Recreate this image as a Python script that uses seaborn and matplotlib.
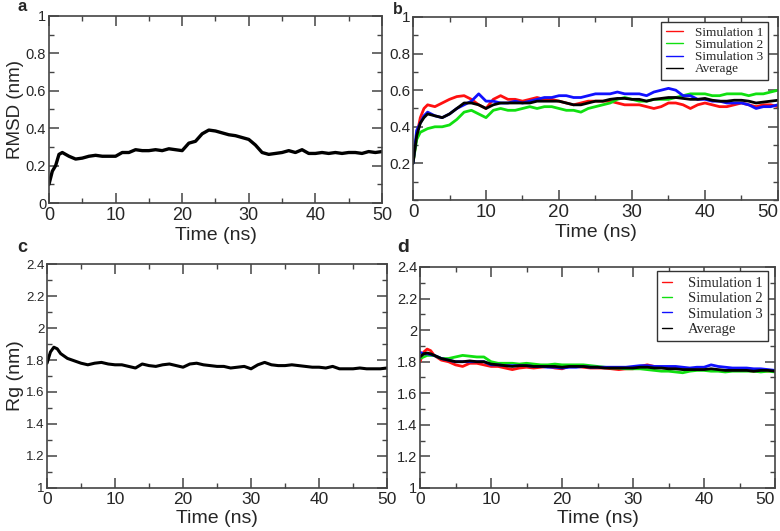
import numpy as np
import pandas as pd
import matplotlib
matplotlib.use("Agg")
import matplotlib.pyplot as plt
import seaborn as sns
from matplotlib.ticker import MultipleLocator

# --- data (ns, nm) ---
time_ns = [0, 0.5, 1, 1.5, 2, 3, 4, 5, 6, 7, 8, 9, 10, 11, 12, 13, 14, 15, 16, 17, 18, 19,
           20, 21, 22, 23, 24, 25, 26, 27, 28, 29, 30, 31, 32, 33, 34, 35, 36, 37, 38, 39,
           40, 41, 42, 43, 44, 45, 46, 47, 48, 49, 50]

rmsd_single = [0.10, 0.17, 0.20, 0.26, 0.27, 0.25, 0.235, 0.24, 0.25, 0.255, 0.25, 0.25,
               0.25, 0.27, 0.27, 0.285, 0.28, 0.28, 0.285, 0.28, 0.29, 0.285, 0.28, 0.32,
               0.33, 0.37, 0.39, 0.385, 0.375, 0.365, 0.36, 0.35, 0.34, 0.31, 0.27, 0.26,
               0.265, 0.27, 0.28, 0.27, 0.285, 0.265, 0.265, 0.27, 0.265, 0.27, 0.265, 0.27,
               0.27, 0.265, 0.275, 0.27, 0.275]

rmsd_sim1 = [0.20, 0.35, 0.45, 0.50, 0.52, 0.51, 0.53, 0.55, 0.565, 0.57, 0.55, 0.52, 0.50,
             0.55, 0.57, 0.55, 0.55, 0.54, 0.55, 0.56, 0.55, 0.55, 0.54, 0.53, 0.52, 0.53,
             0.54, 0.54, 0.54, 0.54, 0.53, 0.52, 0.52, 0.52, 0.51, 0.50, 0.51, 0.53, 0.53,
             0.52, 0.50, 0.52, 0.53, 0.52, 0.51, 0.51, 0.52, 0.53, 0.52, 0.51, 0.52, 0.52, 0.51]
rmsd_sim2 = [0.20, 0.33, 0.37, 0.38, 0.39, 0.40, 0.40, 0.41, 0.44, 0.48, 0.49, 0.47, 0.45,
             0.49, 0.50, 0.49, 0.49, 0.50, 0.51, 0.50, 0.51, 0.51, 0.50, 0.49, 0.49, 0.48,
             0.50, 0.51, 0.52, 0.53, 0.55, 0.56, 0.55, 0.54, 0.54, 0.55, 0.55, 0.55, 0.56,
             0.57, 0.58, 0.58, 0.58, 0.57, 0.57, 0.58, 0.58, 0.58, 0.57, 0.58, 0.58, 0.59, 0.60]
rmsd_sim3 = [0.20, 0.38, 0.42, 0.46, 0.48, 0.46, 0.45, 0.47, 0.50, 0.52, 0.54, 0.58, 0.54,
             0.54, 0.53, 0.53, 0.54, 0.53, 0.54, 0.55, 0.56, 0.56, 0.57, 0.57, 0.56, 0.56,
             0.57, 0.58, 0.58, 0.58, 0.59, 0.58, 0.58, 0.58, 0.57, 0.59, 0.60, 0.61, 0.60,
             0.57, 0.57, 0.55, 0.55, 0.54, 0.54, 0.53, 0.53, 0.53, 0.52, 0.50, 0.51, 0.51, 0.52]
rmsd_avg = [0.20, 0.35, 0.42, 0.45, 0.47, 0.46, 0.45, 0.47, 0.50, 0.53, 0.53, 0.52, 0.50,
            0.52, 0.53, 0.53, 0.53, 0.53, 0.53, 0.54, 0.54, 0.54, 0.54, 0.53, 0.52, 0.52,
            0.53, 0.54, 0.54, 0.55, 0.555, 0.555, 0.55, 0.55, 0.54, 0.55, 0.555, 0.56, 0.56,
            0.555, 0.55, 0.55, 0.555, 0.545, 0.54, 0.54, 0.545, 0.545, 0.54, 0.53, 0.535,
            0.54, 0.545]

rg_single = [1.78, 1.85, 1.88, 1.87, 1.84, 1.81, 1.795, 1.78, 1.77, 1.78, 1.785, 1.775,
             1.77, 1.77, 1.76, 1.75, 1.775, 1.765, 1.76, 1.77, 1.775, 1.765, 1.755, 1.775,
             1.78, 1.77, 1.765, 1.76, 1.76, 1.75, 1.755, 1.76, 1.745, 1.77, 1.785, 1.77,
             1.765, 1.765, 1.77, 1.765, 1.76, 1.755, 1.755, 1.75, 1.76, 1.745, 1.745, 1.745,
             1.75, 1.745, 1.745, 1.745, 1.75]

rg_sim1 = [1.80, 1.86, 1.88, 1.87, 1.84, 1.81, 1.80, 1.78, 1.77, 1.79, 1.79, 1.78, 1.77,
           1.77, 1.76, 1.75, 1.76, 1.765, 1.76, 1.765, 1.77, 1.76, 1.755, 1.77, 1.77, 1.765,
           1.76, 1.76, 1.76, 1.755, 1.75, 1.755, 1.755, 1.77, 1.78, 1.77, 1.765, 1.76, 1.76,
           1.755, 1.755, 1.75, 1.75, 1.745, 1.745, 1.74, 1.745, 1.745, 1.745, 1.74, 1.745,
           1.74, 1.745]
rg_sim2 = [1.82, 1.83, 1.84, 1.84, 1.84, 1.82, 1.82, 1.83, 1.84, 1.835, 1.83, 1.83, 1.80,
           1.79, 1.79, 1.79, 1.785, 1.79, 1.785, 1.78, 1.78, 1.785, 1.78, 1.78, 1.78, 1.78,
           1.775, 1.77, 1.765, 1.76, 1.76, 1.755, 1.755, 1.755, 1.75, 1.745, 1.74, 1.74,
           1.735, 1.73, 1.74, 1.745, 1.745, 1.74, 1.74, 1.735, 1.74, 1.74, 1.74, 1.74, 1.735,
           1.74, 1.735]
rg_sim3 = [1.86, 1.85, 1.85, 1.845, 1.84, 1.82, 1.81, 1.80, 1.80, 1.80, 1.80, 1.80, 1.78,
           1.78, 1.775, 1.775, 1.775, 1.775, 1.77, 1.77, 1.765, 1.765, 1.76, 1.765, 1.765,
           1.77, 1.765, 1.765, 1.765, 1.765, 1.765, 1.765, 1.77, 1.775, 1.775, 1.77, 1.77,
           1.77, 1.77, 1.765, 1.76, 1.765, 1.765, 1.78, 1.77, 1.765, 1.76, 1.76, 1.76, 1.755,
           1.755, 1.75, 1.745]
rg_avg = [1.83, 1.85, 1.855, 1.85, 1.84, 1.82, 1.81, 1.80, 1.80, 1.805, 1.80, 1.80, 1.785,
          1.78, 1.775, 1.77, 1.775, 1.775, 1.77, 1.77, 1.77, 1.77, 1.765, 1.77, 1.77, 1.77,
          1.765, 1.765, 1.76, 1.76, 1.76, 1.76, 1.76, 1.765, 1.765, 1.76, 1.76, 1.755, 1.755,
          1.75, 1.75, 1.75, 1.75, 1.755, 1.75, 1.745, 1.745, 1.745, 1.745, 1.74, 1.745,
          1.745, 1.74]

run_names = ["Simulation 1", "Simulation 2", "Simulation 3", "Average"]
run_colors = ["#ff1010", "#10e010", "#1010ff", "#000000"]

x_ticks = [0, 10, 20, 30, 40, 50]
rmsd_ticks = [0, 0.2, 0.4, 0.6, 0.8, 1.0]
rmsd_labels = ["0", "0.2", "0.4", "0.6", "0.8", "1"]
rg_ticks = [1, 1.2, 1.4, 1.6, 1.8, 2.0, 2.2, 2.4]
rg_labels = ["1", "1.2", "1.4", "1.6", "1.8", "2", "2.2", "2.4"]

sns.set_style("ticks")
plt.rcParams["font.family"] = ["Liberation Sans", "DejaVu Sans"]


def long_frame(series):
    rows = []
    for name, vals in zip(run_names, series):
        for t, v in zip(time_ns, vals):
            rows.append((t, v, name))
    return pd.DataFrame(rows, columns=["Time", "Value", "Run"])


def style_axis(ax, ylim, yticks, ylabels, xfs, yfs, last_right=False):
    ax.set_xlim(0, 50)
    ax.set_ylim(*ylim)
    ax.set_xticks(x_ticks)
    ax.set_xticklabels([str(t) for t in x_ticks])
    ax.set_yticks(yticks)
    ax.set_yticklabels(ylabels)
    ax.xaxis.set_minor_locator(MultipleLocator(5))
    ax.yaxis.set_minor_locator(MultipleLocator(0.1))
    ax.tick_params(which="both", direction="in", top=True, right=True, color="#444444")
    ax.tick_params(which="major", length=7, width=1.1)
    ax.tick_params(which="minor", length=3.5, width=1.0)
    ax.tick_params(axis="x", labelsize=xfs, pad=3)
    ax.tick_params(axis="y", labelsize=yfs, pad=2)
    if last_right:
        ax.get_xticklabels()[-1].set_horizontalalignment("right")
    for s in ax.spines.values():
        s.set_visible(True)
        s.set_color("#444444")
        s.set_linewidth(1.2)
    ax.set_xlabel("Time (ns)", fontsize=14, labelpad=2)


fig = plt.figure(figsize=(7.8, 5.31), dpi=100)

ax_a = fig.add_axes([0.0628, 0.6177, 0.4269, 0.3522])
ax_b = fig.add_axes([0.5295, 0.6234, 0.4679, 0.3446])
ax_c = fig.add_axes([0.0603, 0.0810, 0.4359, 0.4218])
ax_d = fig.add_axes([0.5385, 0.0810, 0.4551, 0.4162])

# a: single RMSD
sns.lineplot(x=time_ns, y=rmsd_single, ax=ax_a, color="black", linewidth=2.4)
style_axis(ax_a, (0, 1), rmsd_ticks, rmsd_labels, 13, 10.5)
ax_a.set_ylabel("RMSD (nm)", fontsize=13.5, labelpad=1)

# b: three runs + average RMSD
df_b = long_frame([rmsd_sim1, rmsd_sim2, rmsd_sim3, rmsd_avg])
sns.lineplot(data=df_b, x="Time", y="Value", hue="Run", hue_order=run_names,
             palette=run_colors, estimator=None, linewidth=2.0, ax=ax_b)
style_axis(ax_b, (0, 1), rmsd_ticks[1:], rmsd_labels[1:], 13.5, 11, last_right=True)
ax_b.set_ylabel("")

# c: single Rg
sns.lineplot(x=time_ns, y=rg_single, ax=ax_c, color="black", linewidth=2.2)
style_axis(ax_c, (1, 2.4), rg_ticks, rg_labels, 12.5, 9.5)
ax_c.set_ylabel("Rg (nm)", fontsize=14, labelpad=1)

# d: three runs + average Rg
df_d = long_frame([rg_sim1, rg_sim2, rg_sim3, rg_avg])
sns.lineplot(data=df_d, x="Time", y="Value", hue="Run", hue_order=run_names,
             palette=run_colors, estimator=None, linewidth=2.0, ax=ax_d)
style_axis(ax_d, (1, 2.4), rg_ticks, rg_labels, 12.5, 10.5, last_right=True)
ax_d.set_ylabel("")

# legends (serif, boxed, upper right)
legend_opts = {
    ax_b: dict(fs=9.5, hl=1.3, tp=0.9, ls=0.0, anchor=(0.973, 0.973)),
    ax_d: dict(fs=10.5, hl=0.7, tp=1.1, ls=0.15, anchor=(0.98, 0.98)),
}
for ax, o in legend_opts.items():
    leg = ax.legend(loc="upper right", bbox_to_anchor=o["anchor"], borderaxespad=0,
                    frameon=True, fancybox=False, handlelength=o["hl"],
                    handletextpad=o["tp"], borderpad=0.35, labelspacing=o["ls"],
                    prop={"family": "Liberation Serif", "size": o["fs"]})
    leg.get_frame().set_edgecolor("#333333")
    leg.get_frame().set_linewidth(1.0)
    leg.get_frame().set_alpha(1)
    for line in leg.get_lines():
        line.set_linewidth(1.0)

# panel letters
for letter, x, y, fs in (("a", 18, 11, 12), ("b", 393, 14, 11.5),
                         ("c", 17, 252, 13), ("d", 397, 252, 14)):
    fig.text(x / 780, 1 - y / 531, letter, fontsize=fs, fontweight="bold", va="baseline")

fig.savefig("out.png", dpi=100)
